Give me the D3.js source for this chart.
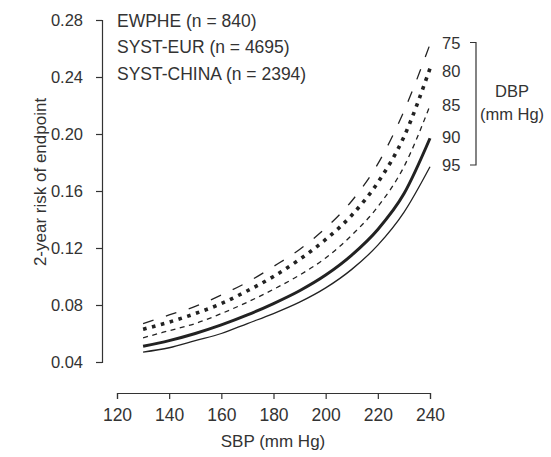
<!DOCTYPE html>
<html>
<head>
<meta charset="utf-8">
<script src="https://cdn.jsdelivr.net/npm/d3@7"></script>
<style>
  body { margin: 0; background: #fff; }
  svg text { font-family: "Liberation Sans", Arial, sans-serif; fill: #333; }
  .axis path, .axis line { stroke: #333; stroke-width: 1.2; }
</style>
</head>
<body>
<svg class="chart" width="551" height="457"></svg>
<script>
var sbp = [130, 140, 150, 160, 170, 180, 190, 200, 210, 220, 230, 240];

// risk per DBP level
var dbp75 = [0.067, 0.073, 0.079, 0.087, 0.096, 0.107, 0.119, 0.134, 0.153, 0.179, 0.216, 0.263];
var dbp80 = [0.063, 0.068, 0.074, 0.081, 0.090, 0.100, 0.112, 0.126, 0.143, 0.166, 0.198, 0.246];
var dbp85 = [0.057, 0.062, 0.067, 0.074, 0.082, 0.091, 0.101, 0.113, 0.129, 0.149, 0.177, 0.220];
var dbp90 = [0.051, 0.055, 0.060, 0.066, 0.073, 0.081, 0.090, 0.101, 0.115, 0.133, 0.158, 0.197];
var dbp95 = [0.047, 0.050, 0.055, 0.060, 0.067, 0.074, 0.082, 0.092, 0.105, 0.122, 0.145, 0.177];

var dbpLabels = ["75", "80", "85", "90", "95"];
var trials = ["EWPHE (n = 840)", "SYST-EUR (n = 4695)", "SYST-CHINA (n = 2394)"];
var xTicks = [120, 140, 160, 180, 200, 220, 240];
var yTicks = [0.04, 0.08, 0.12, 0.16, 0.20, 0.24, 0.28];

function show() {
    'use strict';

    var svg = d3.select(".chart");

    var x = d3.scaleLinear().domain([120, 240]).range([117, 430]);
    var y = d3.scaleLinear().domain([0.04, 0.28]).range([362, 20]);

    var xAxis = svg.append("g")
        .attr("class", "axis")
        .attr("transform", "translate(0,393)")
        .call(d3.axisBottom(x).tickValues(xTicks).tickSize(6).tickPadding(10));
    xAxis.selectAll("text").attr("font-size", 17.5);

    var yAxis = svg.append("g")
        .attr("class", "axis")
        .attr("transform", "translate(102,0)")
        .call(d3.axisLeft(y).tickValues(yTicks).tickFormat(d3.format(".2f")).tickSize(6).tickPadding(13));
    yAxis.selectAll("text").attr("font-size", 16.5);
    svg.selectAll(".axis text").attr("fill", "#333").style("font-family", "'Liberation Sans', Arial, sans-serif");

    svg.append("text")
        .attr("transform", "translate(273,447)")
        .attr("text-anchor", "middle")
        .attr("font-size", 17)
        .text("SBP (mm Hg)");

    svg.append("text")
        .attr("transform", "translate(46,182) rotate(-90)")
        .attr("text-anchor", "middle")
        .attr("font-size", 17)
        .text("2-year risk of endpoint");

    svg.append("g").selectAll("text")
        .data(trials).enter()
        .append("text")
        .attr("x", 117)
        .attr("y", function(d, i) { return 26.5 + i * 26.5; })
        .attr("font-size", 17.5)
        .text(function(d) { return d; });

    var series = [
        {values: dbp75, width: 1.3, dash: "11,13"},
        {values: dbp80, width: 3.6, dash: "3.6,5.6"},
        {values: dbp85, width: 1.3, dash: "5,4.5"},
        {values: dbp90, width: 3, dash: null},
        {values: dbp95, width: 1.3, dash: null}
    ];

    var line = d3.line()
        .x(function(d, i) { return x(sbp[i]); })
        .y(function(d) { return y(d); })
        .curve(d3.curveMonotoneX);

    svg.append("g").selectAll("path")
        .data(series).enter()
        .append("path")
        .attr("fill", "none")
        .attr("stroke", "#222")
        .attr("stroke-width", function(d) { return d.width; })
        .attr("stroke-dasharray", function(d) { return d.dash; })
        .attr("d", function(d) { return line(d.values); });

    // DBP labels next to the curve ends
    var labelY = [42.5, 71, 105, 137, 165];
    svg.append("g").selectAll("text")
        .data(dbpLabels).enter()
        .append("text")
        .attr("x", 442)
        .attr("y", function(d, i) { return labelY[i] + 6; })
        .attr("font-size", 16.5)
        .text(function(d) { return d; });

    svg.append("path")
        .attr("fill", "none")
        .attr("stroke", "#333")
        .attr("stroke-width", 1.2)
        .attr("d", "M470," + labelY[0] + "H476V" + labelY[4] + "H470");

    svg.append("text")
        .attr("x", 512).attr("y", 97)
        .attr("text-anchor", "middle")
        .attr("font-size", 16.5)
        .text("DBP");
    svg.append("text")
        .attr("x", 512).attr("y", 120)
        .attr("text-anchor", "middle")
        .attr("font-size", 16.5)
        .text("(mm Hg)");
}

show();
</script>
</body>
</html>
